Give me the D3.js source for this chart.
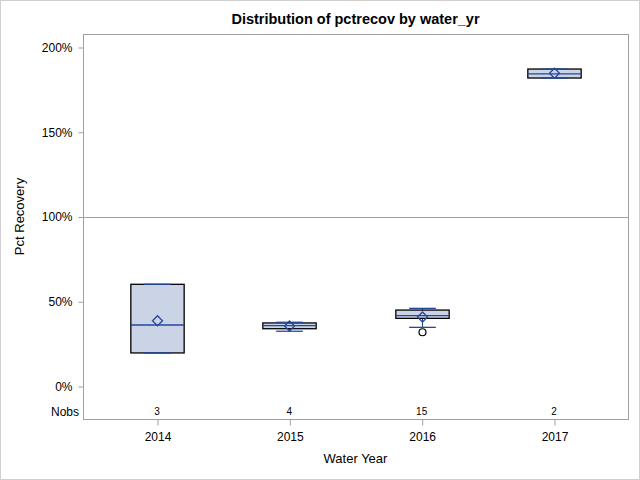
<!DOCTYPE html>
<html>
<head>
<meta charset="utf-8">
<script src="https://cdn.jsdelivr.net/npm/d3@7"></script>
<style>
html,body{margin:0;padding:0;background:#fff;}
svg{display:block;}
text{font-family:"Liberation Sans",Arial,sans-serif;}
</style>
</head>
<body>
<svg id="chart" width="640" height="480"></svg>
<script>
const categories = ["2014", "2015", "2016", "2017"];
const nobs = [3, 4, 15, 2];
const q1 = [0.195, 0.338, 0.399, 1.817];
const medians = [0.36, 0.356, 0.415, 1.842];
const q3 = [0.600, 0.372, 0.448, 1.870];
const whiskerLow = [0.195, 0.323, 0.346, 1.817];
const whiskerHigh = [0.600, 0.376, 0.458, 1.870];
const means = [0.385, 0.354, 0.407, 1.845];
const outliers = [[], [], [0.317], []];
const yTicks = [0, 0.5, 1, 1.5, 2];
const refValue = 1;

const svg = d3.select("#chart");
const frame = {left: 83, right: 628, top: 34, bottom: 419};
const gray = "#a0a0a0";
const blue = "#24489a";
const fill = "#cad4e6";

// outer border
svg.append("rect").attr("x", 0.5).attr("y", 0.5).attr("width", 639).attr("height", 479)
  .attr("fill", "none").attr("stroke", "#d0d0d0");

const x = d3.scalePoint().domain(categories).range([frame.left, frame.right]).padding(0.559);
const y = d3.scaleLinear().domain([0, 2]).range([386, 47]);
const step = x.step();
const boxW = step * 0.403;
const capW = boxW / 2;

// frame
svg.append("rect").attr("x", frame.left + 0.5).attr("y", frame.top + 0.5)
  .attr("width", frame.right - frame.left).attr("height", frame.bottom - frame.top)
  .attr("fill", "none").attr("stroke", gray);

// reference line
svg.append("line").attr("x1", frame.left).attr("x2", frame.right)
  .attr("y1", Math.round(y(refValue)) + 0.5).attr("y2", Math.round(y(refValue)) + 0.5)
  .attr("stroke", gray);

// y axis
const yAxis = d3.axisLeft(y).tickValues(yTicks).tickFormat(d3.format(".0%")).tickSize(5).tickPadding(6);
const gy = svg.append("g").attr("transform", `translate(${frame.left + 0.5},0.5)`).call(yAxis);
gy.select(".domain").remove();
gy.selectAll(".tick line").attr("stroke", gray);
gy.selectAll(".tick text").attr("fill", "#000").style("font-size", "12px")
  .style("font-family", "'Liberation Sans', Arial, sans-serif");

// x axis
const xAxis = d3.axisBottom(x).tickSize(6).tickPadding(7);
const gx = svg.append("g").attr("transform", `translate(0.5,${frame.bottom + 0.5})`).call(xAxis);
gx.select(".domain").remove();
gx.selectAll(".tick line").attr("stroke", gray);
gx.selectAll(".tick text").attr("fill", "#000").style("font-size", "12px")
  .style("font-family", "'Liberation Sans', Arial, sans-serif");

// Nobs row
svg.append("text").attr("x", 79).attr("y", 416).attr("text-anchor", "end")
  .style("font-size", "12px").text("Nobs");
svg.selectAll(".nobs").data(categories).enter().append("text")
  .attr("x", d => x(d)).attr("y", 415).attr("text-anchor", "middle")
  .style("font-size", "10px").text((d, i) => nobs[i]);

// boxes
const g = svg.append("g");
categories.forEach((c, i) => {
  const cx = Math.round(x(c)) + 0.5;
  g.append("line").attr("x1", cx).attr("x2", cx).attr("y1", y(whiskerHigh[i])).attr("y2", y(q3[i])).attr("stroke", blue);
  g.append("line").attr("x1", cx).attr("x2", cx).attr("y1", y(q1[i])).attr("y2", y(whiskerLow[i])).attr("stroke", blue);
  g.append("rect").attr("x", cx - boxW / 2).attr("y", y(q3[i]))
    .attr("width", boxW).attr("height", Math.max(1, y(q1[i]) - y(q3[i])))
    .attr("fill", fill).attr("stroke", "#000").attr("stroke-width", 1.3);
  [whiskerHigh[i], whiskerLow[i]].forEach(v => {
    g.append("line").attr("x1", cx - capW / 2).attr("x2", cx + capW / 2)
      .attr("y1", y(v)).attr("y2", y(v)).attr("stroke", blue).attr("stroke-width", 1.3);
  });
  g.append("line").attr("x1", cx - boxW / 2).attr("x2", cx + boxW / 2)
    .attr("y1", y(medians[i])).attr("y2", y(medians[i])).attr("stroke", blue).attr("stroke-width", 1.3);
  const my = y(means[i]);
  const r = 5;
  g.append("path").attr("d", `M${cx},${my - r}L${cx + r},${my}L${cx},${my + r}L${cx - r},${my}Z`)
    .attr("fill", "none").attr("stroke", blue).attr("stroke-width", 1.3);
  outliers[i].forEach(v => {
    g.append("circle").attr("cx", cx).attr("cy", y(v)).attr("r", 3.5)
      .attr("fill", "none").attr("stroke", "#000").attr("stroke-width", 1.2);
  });
});

// title & axis labels
svg.append("text").attr("x", (frame.left + frame.right) / 2).attr("y", 24)
  .attr("text-anchor", "middle").style("font-size", "14.5px").style("font-weight", "bold")
  .text("Distribution of pctrecov by water_yr");
svg.append("text").attr("x", (frame.left + frame.right) / 2).attr("y", 463)
  .attr("text-anchor", "middle").style("font-size", "13px").text("Water Year");
svg.append("text").attr("transform", `translate(24,${y(refValue)}) rotate(-90)`)
  .attr("text-anchor", "middle").style("font-size", "13px").text("Pct Recovery");
</script>
</body>
</html>
